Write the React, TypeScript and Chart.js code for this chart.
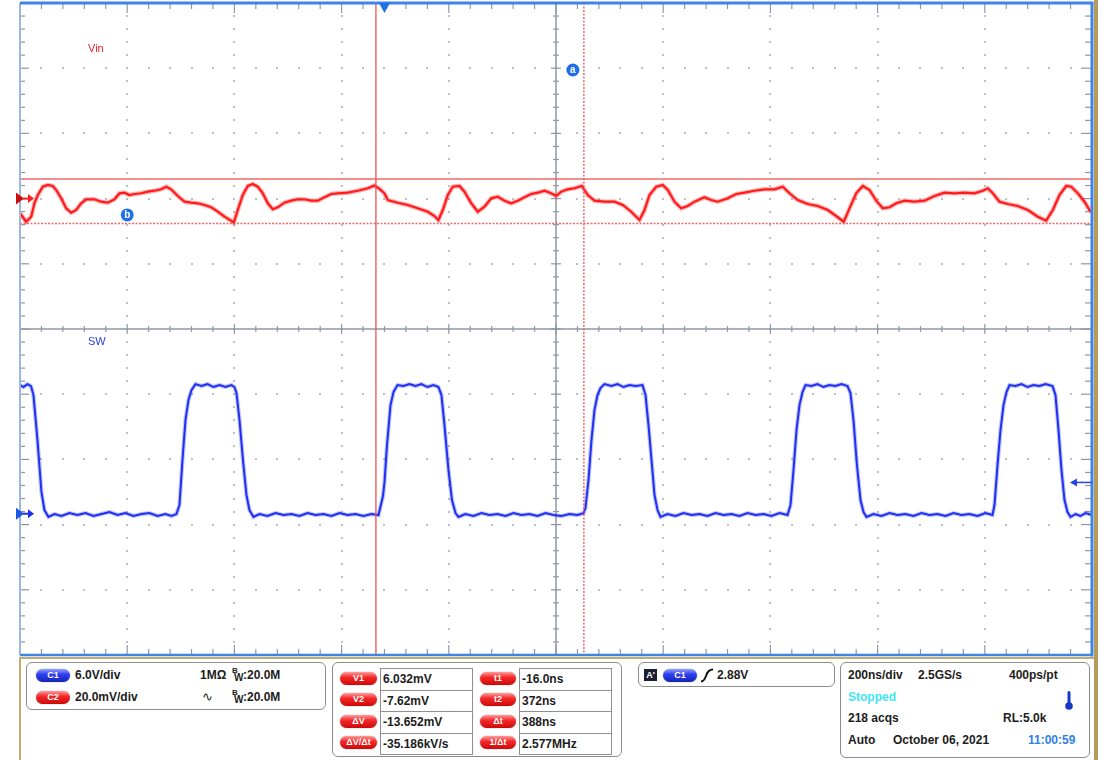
import React, { useEffect, useRef } from 'react';
import { Chart, registerables } from 'chart.js';

Chart.register(...registerables);

// ---- scope settings ----
const timeRangeNs = [-680, 1320]; // 200 ns/div, trigger at t = 0
const vinRangeMv = [-140, 60]; // C2: 20.0 mV/div
const swRangeV = [-13, 47]; // C1: 6.0 V/div
const cursorTimesNs = [-16, 372];
const cursorVinMv = [6.032, -7.62];
const triggerTimeNs = 0;
const triggerLevelV = 2.88;
const traceLabels = ['Vin', 'SW'];

// ---- C2 trace (Vin ripple), [time ns, mV] ----
const vinTrace: [number, number][] = [
  [-680, -4.5], [-668.5, -7.09], [-659.1, -5.55], [-653.0, -1.35], [-646.8, 1.1], [-637.5, 3.65],
  [-628.2, 4.17], [-618.9, 3.87], [-612.5, 2.64], [-603.2, 0.09], [-593.9, -2.98], [-584.5, -4.33],
  [-575.2, -3.5], [-565.9, -1.44], [-556.5, -0.21], [-541.1, -0.21], [-528.6, -0.95], [-516.2, -1.26],
  [-503.7, -0.21], [-494.4, 1.63], [-485.1, 1.81], [-475.8, 1.1], [-466.4, 1.41], [-453.9, 1.63],
  [-441.6, 2.12], [-429.1, 2.42], [-416.6, 2.85], [-407.3, 3.65], [-398.0, 2.85], [-385.6, 0.8],
  [-373.1, -0.95], [-360.6, -1.26], [-348.3, -1.44], [-335.8, -1.96], [-323.3, -2.67], [-311.0, -4.02],
  [-298.5, -5.55], [-286.0, -6.78], [-281.2, -7.39], [-273.7, -3.5], [-264.4, 1.1], [-255.0, 3.87],
  [-245.7, 4.48], [-236.4, 3.65], [-227.1, 1.63], [-217.7, -1.44], [-208.4, -3.28], [-199.1, -2.67],
  [-186.6, -1.26], [-174.1, -0.64], [-161.8, -0.21], [-149.3, -0.21], [-136.8, -0.64], [-124.4, -0.64],
  [-111.9, 0.4], [-99.4, 1.41], [-87.1, 1.63], [-68.5, 1.81], [-49.8, 2.42], [-31.2, 3.16],
  [-18.7, 4.0], [-9.3, 3.0], [0, 1.6], [6.2, -0.43], [24.8, -1.26], [43.5, -1.96], [62.1, -2.98],
  [80.8, -4.02], [93.3, -5.34], [100.7, -6.56], [108.8, -3.5], [118.1, 1.1], [127.4, 3.65],
  [139.9, 3.87], [149.3, 2.12], [161.8, -1.44], [174.1, -4.02], [186.6, -2.48], [199.1, 0.09],
  [211.4, 0.58], [223.9, -0.64], [236.4, -1.44], [248.7, -0.64], [261.2, 0.4], [273.7, 1.41],
  [286.0, 1.81], [298.5, 2.42], [311.0, 1.63], [320.3, 0.8], [329.7, 2.12], [342.0, 2.85],
  [354.5, 3.16], [368.1, 3.87], [379.3, 1.1], [391.8, -0.64], [410.5, -0.95], [429.1, -0.95],
  [444.6, -1.96], [460.3, -4.02], [469.6, -5.55], [475.8, -6.56], [485.1, -3.5], [494.4, 1.1],
  [506.9, 3.65], [519.2, 4.17], [528.6, 2.64], [541.1, -0.95], [553.5, -2.98], [565.9, -2.27],
  [578.4, -0.95], [597.0, 0.4], [609.5, -0.43], [621.8, -0.95], [640.5, 0.09], [656.2, 1.41],
  [671.7, 1.81], [690.3, 2.42], [709.0, 2.85], [727.6, 2.85], [743.1, 3.65], [755.6, 1.63],
  [771.1, -0.43], [789.8, -1.66], [808.4, -2.27], [827.1, -3.5], [842.7, -5.34], [856.9, -7.09],
  [867.6, -2.98], [880.1, 1.63], [892.4, 3.87], [904.9, 2.64], [917.4, -0.64], [929.7, -2.98],
  [942.2, -2.67], [954.7, -1.44], [970.2, -0.64], [988.8, -0.95], [1007.5, -0.64], [1026.1, 0.8],
  [1044.8, 1.81], [1063.4, 1.63], [1082.1, 1.81], [1100.8, 1.63], [1116.2, 2.42], [1125.6, 3.16],
  [1134.9, 1.63], [1147.4, -0.95], [1162.9, -1.66], [1181.5, -2.27], [1200.2, -3.5], [1218.9, -5.55],
  [1234.5, -6.78], [1246.9, -3.5], [1259.3, 1.1], [1271.8, 3.87], [1281.2, 3.65], [1293.5, 1.63],
  [1306.0, -0.95], [1315.3, -3.5], [1320, -4.1],
];

// ---- C1 trace (SW node), [time ns, V] ----
const swTrace: [number, number][] = [
  [-680, 11.84], [-673.5, 11.66], [-666.1, 11.93], [-659.5, 11.75], [-654.9, 10.92], [-647.4, 6.78],
  [-640.0, 2.0], [-634.4, 0.34], [-626.9, -0.3], [-615.7, -0.03], [-602.6, -0.21], [-587.7, 0.06],
  [-572.8, -0.12], [-557.8, 0.06], [-542.9, -0.21], [-528.0, -0.03], [-513.1, 0.16], [-498.1, -0.12],
  [-483.2, 0.06], [-468.3, -0.21], [-453.4, -0.03], [-438.4, 0.06], [-423.5, -0.21], [-408.6, -0.03],
  [-397.4, -0.21], [-388.1, -0.03], [-382.5, 0.8], [-376.9, 4.92], [-371.3, 8.62], [-365.7, 10.46],
  [-360.1, 11.38], [-352.6, 11.93], [-341.4, 11.75], [-330.2, 11.93], [-319.0, 11.66], [-307.8, 11.84],
  [-296.6, 11.66], [-285.4, 11.84], [-279.9, 11.66], [-276.1, 11.11], [-270.5, 8.62], [-264.0, 4.92],
  [-257.5, 1.72], [-251.9, 0.34], [-244.4, -0.3], [-233.2, -0.03], [-218.3, -0.21], [-203.4, 0.06],
  [-188.4, -0.12], [-173.5, -0.03], [-158.6, -0.21], [-143.7, 0.06], [-128.7, -0.12], [-113.8, -0.03],
  [-98.9, -0.21], [-84.0, 0.06], [-69.0, -0.12], [-54.1, -0.03], [-39.2, -0.21], [-24.3, -0.03],
  [-11.2, -0.12], [-2.8, 1.63], [0, 2.88], [4.7, 6.31], [11.2, 9.98], [16.8, 11.2], [24.3, 11.84],
  [35.4, 11.75], [46.6, 11.93], [57.8, 11.75], [69.0, 11.93], [80.2, 11.66], [91.4, 11.84],
  [100.7, 11.66], [106.3, 10.92], [111.9, 8.16], [119.4, 4.02], [125.9, 1.26], [132.5, 0.06],
  [138.1, -0.3], [151.1, -0.03], [166.0, -0.21], [181.0, 0.06], [195.9, -0.12], [210.8, -0.03],
  [225.7, -0.21], [240.7, 0.06], [255.6, -0.12], [270.5, -0.03], [285.5, -0.21], [300.4, 0.06],
  [315.3, -0.12], [330.2, -0.21], [345.2, -0.03], [360.1, -0.12], [371.3, 0.06], [375.0, 0.52],
  [380.6, 3.1], [386.2, 6.78], [391.8, 9.54], [397.4, 10.92], [403.0, 11.57], [410.5, 11.93],
  [423.5, 11.75], [434.7, 11.93], [445.9, 11.66], [457.1, 11.84], [468.3, 11.75], [481.4, 11.84],
  [487.0, 10.92], [492.6, 8.16], [498.2, 4.94], [503.8, 1.72], [509.4, 0.34], [515.0, -0.3],
  [528.0, -0.03], [542.9, -0.21], [557.8, 0.06], [572.8, -0.12], [587.7, -0.03], [602.6, -0.21],
  [617.5, 0.06], [632.5, -0.12], [647.4, -0.03], [662.3, -0.21], [677.2, 0.06], [692.2, -0.12],
  [707.1, -0.03], [722.0, -0.21], [736.9, 0.06], [751.9, -0.12], [757.5, 0.8], [763.1, 4.02],
  [768.7, 7.7], [774.3, 10.0], [779.9, 11.2], [785.5, 11.84], [796.7, 11.75], [807.8, 11.93],
  [819.0, 11.66], [830.2, 11.84], [841.4, 11.75], [852.6, 11.93], [863.8, 11.75], [869.4, 11.11],
  [875.0, 8.62], [881.5, 4.48], [888.1, 1.26], [893.7, 0.16], [899.3, -0.3], [912.3, -0.03],
  [927.3, -0.21], [942.2, 0.06], [957.1, -0.12], [972.0, -0.03], [987.0, -0.21], [1001.9, 0.06],
  [1016.8, -0.12], [1031.7, -0.03], [1046.7, -0.21], [1061.6, 0.06], [1076.5, -0.12], [1091.4, -0.03],
  [1106.4, -0.21], [1121.3, 0.06], [1134.3, -0.12], [1138.1, 0.8], [1143.7, 4.48], [1149.3, 7.7],
  [1154.9, 10.0], [1160.5, 11.2], [1166.1, 11.84], [1177.3, 11.75], [1188.5, 11.93], [1199.7, 11.66],
  [1210.8, 11.84], [1222.0, 11.75], [1233.2, 11.93], [1246.3, 11.75], [1251.9, 10.92], [1257.5, 7.7],
  [1263.1, 4.02], [1268.7, 1.26], [1274.3, 0.16], [1279.9, -0.3], [1289.2, -0.03], [1298.5, -0.21],
  [1307.9, 0.06], [1320, -0.12],
];

// ---- readouts ----
const channelRows = [
  { ch: 'C1', red: false, scale: '6.0V/div', coupling: '1MΩ', bw: '20.0M' },
  { ch: 'C2', red: true, scale: '20.0mV/div', coupling: '∿', bw: '20.0M' },
];
const cursorLabelsLeft = ['V1', 'V2', 'ΔV', 'ΔV/Δt'];
const cursorValuesLeft = ['6.032mV', '-7.62mV', '-13.652mV', '-35.186kV/s'];
const cursorLabelsRight = ['t1', 't2', 'Δt', '1/Δt'];
const cursorValuesRight = ['-16.0ns', '372ns', '388ns', '2.577MHz'];

const RED = '#ff1414';
const BLUE = '#1e2cf0';
const FONT = '"Liberation Sans", Arial, sans-serif';

const scopePlugin = {
  id: 'scopeDecor',
  beforeDraw(chart: any) {
    const ctx = chart.ctx;
    ctx.save();
    ctx.fillStyle = '#ffffff';
    ctx.fillRect(0, 0, chart.width, chart.height);
    ctx.restore();
  },
  beforeDatasetsDraw(chart: any) {
    const { ctx, chartArea: a } = chart;
    const dx = (a.right - a.left) / 10;
    const dy = (a.bottom - a.top) / 10;
    const line = (x1: number, y1: number, x2: number, y2: number) => {
      ctx.beginPath();
      ctx.moveTo(x1, y1);
      ctx.lineTo(x2, y2);
      ctx.stroke();
    };
    ctx.save();
    // dotted grid
    ctx.fillStyle = '#bcbfc5';
    for (let i = 1; i < 10; i++) {
      if (i === 5) continue;
      const x = a.left + i * dx;
      for (let j = 1; j < 50; j++) {
        const y = a.top + (j * dy) / 5;
        ctx.fillRect(Math.round(x) - 1, Math.round(y) - 1, 2, 2);
      }
      const y = a.top + i * dy;
      for (let j = 1; j < 50; j++) {
        const xx = a.left + (j * dx) / 5;
        ctx.fillRect(Math.round(xx) - 1, Math.round(y) - 1, 2, 2);
      }
    }
    // center axes
    const cx = a.left + 5 * dx;
    const cy = a.top + 5 * dy;
    ctx.strokeStyle = '#8e97a8';
    ctx.lineWidth = 1.5;
    line(cx, a.top, cx, a.bottom);
    line(a.left, cy, a.right, cy);
    ctx.lineWidth = 1.2;
    for (let j = 1; j < 50; j++) {
      const major = j % 5 === 0;
      const x = a.left + (j * dx) / 5;
      const y = a.top + (j * dy) / 5;
      const l = major ? 5 : 3;
      line(x, cy - l, x, cy + l);
      line(cx - l, y, cx + l, y);
      // border ticks
      line(x, a.top, x, a.top + (major ? 10 : 6));
      line(x, a.bottom, x, a.bottom - (major ? 10 : 6));
      line(a.left, y, a.left + (major ? 9 : 5), y);
      line(a.right, y, a.right - (major ? 11 : 7), y);
    }
    ctx.restore();
  },
  afterDatasetsDraw(chart: any) {
    const { ctx, chartArea: a, scales } = chart;
    const xs = scales.x;
    const yv = scales.yVin;
    const ys = scales.ySw;
    const dx = (a.right - a.left) / 10;
    const dy = (a.bottom - a.top) / 10;
    const line = (x1: number, y1: number, x2: number, y2: number) => {
      ctx.beginPath();
      ctx.moveTo(x1, y1);
      ctx.lineTo(x2, y2);
      ctx.stroke();
    };
    ctx.save();
    // cursors
    ctx.strokeStyle = 'rgba(236, 88, 88, 0.9)';
    ctx.lineWidth = 1.5;
    const t1x = xs.getPixelForValue(cursorTimesNs[0]);
    const t2x = xs.getPixelForValue(cursorTimesNs[1]);
    const v1y = yv.getPixelForValue(cursorVinMv[0]);
    const v2y = yv.getPixelForValue(cursorVinMv[1]);
    line(t1x, a.top, t1x, a.bottom);
    line(a.left, v1y, a.right, v1y);
    ctx.setLineDash([2, 1.5]);
    line(t2x, a.top, t2x, a.bottom);
    line(a.left, v2y, a.right, v2y);
    ctx.setLineDash([]);

    // borders
    ctx.strokeStyle = '#9db8df';
    ctx.lineWidth = 2;
    line(a.left, a.top, a.left, a.bottom);
    ctx.strokeStyle = '#3d84e6';
    ctx.lineWidth = 3;
    line(a.left, a.top, a.right + 1.5, a.top);
    line(a.right, a.top, a.right, a.bottom + 1.5);
    ctx.lineWidth = 2.5;
    line(a.left, a.bottom, a.right, a.bottom);

    // trigger position marker (top)
    const tx = xs.getPixelForValue(triggerTimeNs);
    ctx.fillStyle = '#1f6fe6';
    ctx.beginPath();
    ctx.moveTo(tx - 5.5, a.top);
    ctx.lineTo(tx + 5.5, a.top);
    ctx.lineTo(tx, a.top + 10);
    ctx.closePath();
    ctx.fill();

    // trigger level arrow (right)
    const ty = ys.getPixelForValue(triggerLevelV);
    ctx.strokeStyle = '#2046e0';
    ctx.fillStyle = '#2046e0';
    ctx.lineWidth = 1.5;
    line(a.right - 20, ty, a.right, ty);
    ctx.beginPath();
    ctx.moveTo(a.right - 22, ty);
    ctx.lineTo(a.right - 15, ty - 4);
    ctx.lineTo(a.right - 15, ty + 4);
    ctx.closePath();
    ctx.fill();

    // channel ground markers (left)
    const groundMarker = (y: number, color: string, dark: string) => {
      ctx.fillStyle = dark;
      ctx.beginPath();
      ctx.moveTo(a.left - 4, y - 6);
      ctx.lineTo(a.left + 4, y);
      ctx.lineTo(a.left - 4, y + 6);
      ctx.closePath();
      ctx.fill();
      ctx.strokeStyle = color;
      ctx.fillStyle = color;
      ctx.lineWidth = 2;
      line(a.left + 3, y, a.left + 10, y);
      ctx.beginPath();
      ctx.moveTo(a.left + 8, y - 4.5);
      ctx.lineTo(a.left + 14, y);
      ctx.lineTo(a.left + 8, y + 4.5);
      ctx.closePath();
      ctx.fill();
    };
    groundMarker(yv.getPixelForValue(0), '#ff2020', '#c81010');
    groundMarker(ys.getPixelForValue(0), '#2030f0', '#1a5ae0');

    // a / b markers
    const bubble = (x: number, y: number, ch: string) => {
      ctx.fillStyle = '#1f6fe8';
      ctx.beginPath();
      ctx.arc(x, y, 6.5, 0, Math.PI * 2);
      ctx.fill();
      ctx.fillStyle = '#ffffff';
      ctx.font = `bold 10px ${FONT}`;
      ctx.textAlign = 'center';
      ctx.textBaseline = 'middle';
      ctx.fillText(ch, x, y + 0.5);
    };
    bubble(t2x - 11, a.top + 67, 'a');
    bubble(a.left + dx, v2y - 8.5, 'b');

    // trace labels
    ctx.font = `11px ${FONT}`;
    ctx.textAlign = 'left';
    ctx.textBaseline = 'middle';
    ctx.fillStyle = '#ee2020';
    ctx.fillText(traceLabels[0], a.left + 68, a.top + 46);
    ctx.fillStyle = '#2a3ce8';
    ctx.fillText(traceLabels[1], a.left + 68, a.top + 5 * dy + 13);
    ctx.restore();
  },
};

const T = ({ x, y, c = '#1c1c1c', s = 12, w = 700, children }: any) => (
  <div
    style={{
      position: 'absolute',
      left: x,
      top: y - 7,
      fontSize: s,
      lineHeight: '14px',
      fontWeight: w,
      color: c,
      fontFamily: FONT,
      whiteSpace: 'nowrap',
    }}
  >
    {children}
  </div>
);

const Box = ({ x, y, w, h }: any) => (
  <div
    style={{
      position: 'absolute',
      left: x,
      top: y,
      width: w,
      height: h,
      border: '1.5px solid #8c8c8c',
      borderRadius: 6,
      boxSizing: 'border-box',
      background: '#fff',
    }}
  />
);

const Pill = ({ x, y, w, text, red }: any) => (
  <div
    style={{
      position: 'absolute',
      left: x,
      top: y - 6.5,
      width: w,
      height: 13,
      borderRadius: 7,
      background: red
        ? 'linear-gradient(180deg, #ff9c9c 0%, #f52a2a 40%, #cc0808 100%)'
        : 'linear-gradient(180deg, #94a4ff 0%, #3040f2 40%, #1424b4 100%)',
      boxShadow: '0 0 1px #555',
      color: '#fff',
      fontSize: 9,
      fontWeight: 700,
      lineHeight: '13px',
      textAlign: 'center',
      fontFamily: FONT,
    }}
  >
    {text}
  </div>
);

const Cell = ({ x, y, w, h, children }: any) => (
  <div
    style={{
      position: 'absolute',
      left: x,
      top: y,
      width: w,
      height: h,
      border: '1px solid #8f8f8f',
      boxSizing: 'border-box',
      fontSize: 12,
      fontWeight: 700,
      fontFamily: FONT,
      lineHeight: `${h - 2}px`,
      paddingLeft: 2,
      color: '#1c1c1c',
      whiteSpace: 'nowrap',
    }}
  >
    {children}
  </div>
);

const Bw = ({ x, y, value }: any) => (
  <>
    <div style={{ position: 'absolute', left: x, top: y - 9, fontSize: 8, fontWeight: 700, fontFamily: FONT, color: '#1c1c1c', lineHeight: '9px' }}>B</div>
    <div style={{ position: 'absolute', left: x + 2, top: y - 2, fontSize: 10, fontWeight: 700, fontFamily: FONT, color: '#1c1c1c', lineHeight: '10px' }}>W</div>
    <T x={x + 11} y={y}>:{value}</T>
  </>
);

export default function App() {
  const canvasRef = useRef<HTMLCanvasElement | null>(null);

  useEffect(() => {
    const canvas = canvasRef.current;
    if (!canvas) return;
    const vinPoints = vinTrace.map(([x, y]) => ({ x, y }));
    const swPoints = swTrace.map(([x, y]) => ({ x, y }));
    const common = { pointRadius: 0, tension: 0, fill: false };
    const chart = new Chart(canvas, {
      type: 'line',
      data: {
        datasets: [
          // soft halo to imitate the acquisition noise band of each trace
          { label: 'Vin band', data: vinPoints, yAxisID: 'yVin', borderColor: 'rgba(255,40,40,0.35)', borderWidth: 4.6, ...common },
          { label: 'SW band', data: swPoints, yAxisID: 'ySw', borderColor: 'rgba(40,60,245,0.3)', borderWidth: 4.2, ...common },
          { label: traceLabels[0], data: vinPoints, yAxisID: 'yVin', borderColor: RED, borderWidth: 2.2, ...common },
          { label: traceLabels[1], data: swPoints, yAxisID: 'ySw', borderColor: BLUE, borderWidth: 2, ...common },
        ],
      },
      options: {
        animation: false,
        responsive: false,
        devicePixelRatio: 1,
        events: [],
        layout: { padding: { left: 20, top: 3, right: 28, bottom: 3 } },
        plugins: { legend: { display: false }, tooltip: { enabled: false } },
        scales: {
          x: { type: 'linear', min: timeRangeNs[0], max: timeRangeNs[1], display: false },
          yVin: { type: 'linear', min: vinRangeMv[0], max: vinRangeMv[1], display: false },
          ySw: { type: 'linear', min: swRangeV[0], max: swRangeV[1], display: false },
        },
      },
      plugins: [scopePlugin],
    } as any);
    return () => chart.destroy();
  }, []);

  const rowY = [678, 699.5, 721, 742.5];

  return (
    <div style={{ position: 'absolute', left: 0, top: 0, width: 1120, height: 760, background: '#fff', overflow: 'hidden' }}>
      <canvas ref={canvasRef} width={1120} height={658} style={{ position: 'absolute', left: 0, top: 0, width: 1120, height: 658 }} />
      {/* frame lines */}
      <div style={{ position: 'absolute', left: 20, top: 657, width: 1077, height: 2, background: '#c2ab6c' }} />
      <div style={{ position: 'absolute', left: 19, top: 657, width: 2, height: 103, background: '#c2ab6c' }} />
      <div style={{ position: 'absolute', left: 1094, top: 0, width: 4, height: 760, background: '#b39b5c' }} />

      {/* channel box */}
      <Box x={26} y={662} w={300} h={48} />
      {channelRows.map((r, i) => {
        const y = 675 + i * 22;
        return (
          <React.Fragment key={r.ch}>
            <Pill x={36} y={y} w={34} text={r.ch} red={r.red} />
            <T x={75} y={y}>{r.scale}</T>
            <T x={r.red ? 202 : 200} y={y} w={r.red ? 400 : 700} s={r.red ? 13 : 12}>{r.coupling}</T>
            <Bw x={232} y={y} value={r.bw} />
          </React.Fragment>
        );
      })}

      {/* cursor box */}
      <Box x={332} y={662} w={290} h={95} />
      {cursorLabelsLeft.map((l, i) => (
        <React.Fragment key={l}>
          <Pill x={340} y={rowY[i]} w={37} text={l} red />
          <Cell x={380} y={668 + i * 21.5} w={93} h={22.5}>{cursorValuesLeft[i]}</Cell>
          <Pill x={480} y={rowY[i]} w={36} text={cursorLabelsRight[i]} red />
          <Cell x={519} y={668 + i * 21.5} w={93} h={22.5}>{cursorValuesRight[i]}</Cell>
        </React.Fragment>
      ))}

      {/* trigger box */}
      <Box x={638} y={662} w={197} h={25} />
      <div style={{ position: 'absolute', left: 644, top: 669, width: 13, height: 12, background: '#1a2030', color: '#fff', fontSize: 9, fontWeight: 700, fontFamily: FONT, lineHeight: '12px', textAlign: 'center' }}>A'</div>
      <Pill x={663} y={675} w={34} text="C1" />
      <svg style={{ position: 'absolute', left: 700, top: 668 }} width={16} height={15}>
        <path d="M1,13.5 Q4,13.5 6,8 Q8,1.5 13,1.5" stroke="#111" strokeWidth={2} fill="none" />
      </svg>
      <T x={717} y={675}>2.88V</T>

      {/* acquisition box */}
      <Box x={840} y={662} w={250} h={96} />
      <T x={848} y={675}>200ns/div</T>
      <T x={918} y={675}>2.5GS/s</T>
      <T x={1009} y={675}>400ps/pt</T>
      <T x={848} y={697} c="#3ee6f4">Stopped</T>
      <svg style={{ position: 'absolute', left: 1063, top: 690 }} width={12} height={22}>
        <rect x={4.5} y={1} width={3} height={14} rx={1.5} fill="#1838c8" />
        <circle cx={6} cy={16} r={3.8} fill="#1838c8" />
      </svg>
      <T x={848} y={718}>218 acqs</T>
      <T x={1003} y={718}>RL:5.0k</T>
      <T x={848} y={740}>Auto</T>
      <T x={893} y={740}>October 06, 2021</T>
      <T x={1028} y={740} c="#2f7fe8">11:00:59</T>
    </div>
  );
}
